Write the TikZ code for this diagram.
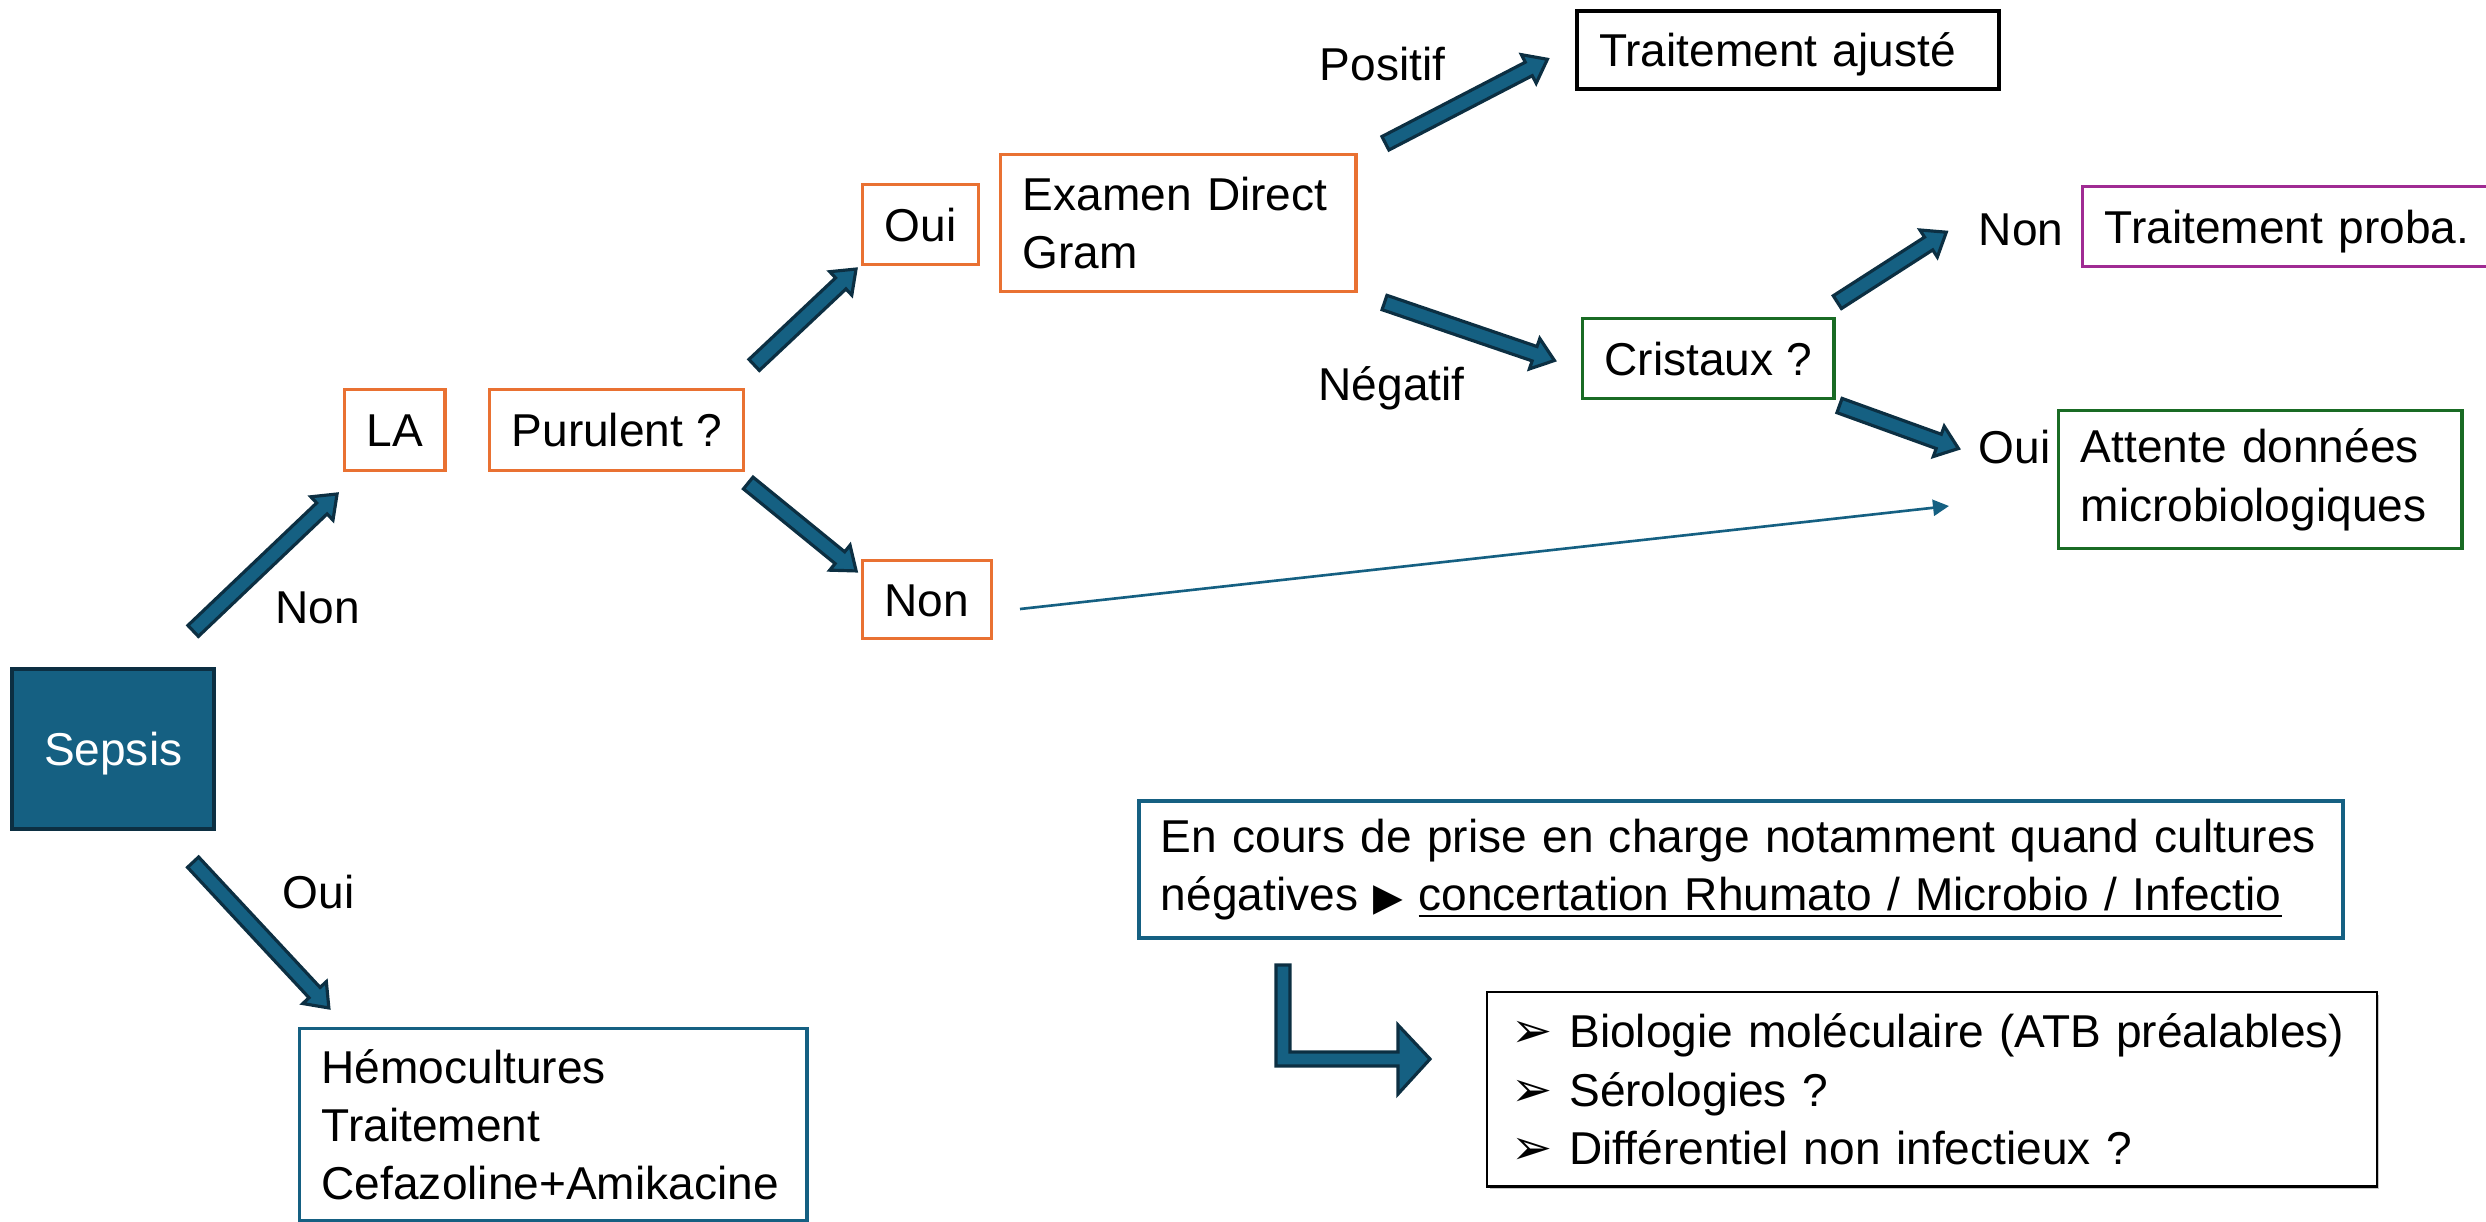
\documentclass[tikz,border=0pt]{standalone}
\usepackage{fontspec}
\setmainfont{Liberation Sans}
\newfontfamily\symfont{DejaVu Sans}
\usetikzlibrary{calc,shapes.arrows,arrows.meta,shadows}
\definecolor{sepblue}{HTML}{156082}
\definecolor{arrowline}{HTML}{0C2F42}
\definecolor{orangeLA}{HTML}{E97132}
\definecolor{greenLA}{HTML}{196B24}
\definecolor{purpleLA}{HTML}{A02B93}
\tikzset{
    basebox/.style={rectangle, draw, line width=0.95pt, inner xsep=0.22cm, inner ysep=0pt, anchor=north west},
    linebox/.style={basebox, text height=0.33cm, text depth=0pt, align=center},
    textbox/.style={basebox, align=left},
    sepsisbox/.style={basebox, draw=arrowline, fill=sepblue, text=white, line width=1.2pt, text height=0.33cm, text depth=0pt, minimum width=2.02cm, minimum height=1.6cm},
    bigarrow/.style={single arrow, draw=arrowline, fill=sepblue, line width=0.9pt, inner sep=0pt, inner ysep=0.06cm, minimum width=0pt, single arrow head extend=0.085cm, single arrow tip angle=75, anchor=tail},
    thinarrow/.style={draw=sepblue, line width=0.75pt, -{Triangle[length=0.16cm, width=0.16cm]}},
    lbl/.style={inner sep=0pt, anchor=base west}
}
\newcommand{\flowarrow}[2]{%
  \path let \p1 = ($(#2)-(#1)$),
            \n1 = {veclen(\x1,\y1)},
            \n2 = {atan2(\y1,\x1)} in
    node [bigarrow, minimum height=\n1, rotate=\n2] at (#1) {};}
\newcommand{\bulletsym}{\makebox[0.58cm][l]{\symfont\fontsize{14}{14}\selectfont ➢}}

\begin{document}
\begin{tikzpicture}
  [
    x                       = 0.01cm,
    y                       = -0.01cm,
    every node/.style       = {font=\fontsize{13.1}{16.6}\selectfont},
  ]
  \useasboundingbox (0,0) rectangle (2486,1221);
  \clip (0,0) rectangle (2486,1221);

  \node [sepsisbox] (sepsis) at (10,667) {Sepsis};
  \node [linebox, draw=orangeLA, minimum width=0.96cm, minimum height=0.81cm] (la) at (343,388) {LA};
  \node [linebox, draw=orangeLA, minimum width=2.50cm, minimum height=0.81cm] (purulent) at (488,388) {Purulent ?};
  \node [linebox, draw=orangeLA, minimum width=1.14cm, minimum height=0.80cm] (ouibox) at (861,183) {Oui};
  \node [linebox, draw=orangeLA, minimum width=1.28cm, minimum height=0.78cm] (nonbox) at (861,559) {Non};
  \node [textbox, draw=orangeLA, text width=3.11cm, minimum height=1.37cm] (examen) at (999,153) {Examen Direct\\Gram};
  \node [textbox, draw=black, line width=1.15pt, text height=0.33cm, text depth=0pt, text width=3.78cm, minimum height=0.78cm] (ajuste) at (1575,9) {Traitement ajusté};
  \node [linebox, draw=greenLA, minimum width=2.50cm, minimum height=0.80cm] (cristaux) at (1581,317) {Cristaux ?};
  \node [textbox, draw=purpleLA, text height=0.33cm, text depth=0pt, text width=4.06cm, minimum height=0.80cm] (proba) at (2081,185) {Traitement proba.};
  \node [textbox, draw=greenLA, text width=3.59cm, minimum height=1.38cm] (attente) at (2057,409) {Attente données\\microbiologiques};
  \node [textbox, draw=sepblue, text width=4.63cm, minimum height=1.92cm] (hemo) at (298,1027) {Hémocultures\\Traitement\\Cefazoline+Amikacine};
  \node [textbox, draw=sepblue, line width=1.1pt, text width=11.59cm, minimum height=1.37cm] (encours) at (1137,799)
    {En cours de prise en charge notamment quand cultures\\négatives {\symfont\fontsize{11}{11}\selectfont ▶} \underline{concertation Rhumato / Microbio / Infectio}};
  \node [textbox, draw=black, line width=0.7pt, fill=white, inner xsep=0.24cm, text width=8.41cm, minimum height=1.94cm,
         drop shadow={shadow xshift=0.025cm, shadow yshift=-0.025cm, opacity=0.45}] (bullets) at (1486,991)
    {\bulletsym Biologie moléculaire (ATB préalables)\\\bulletsym Sérologies ?\\\bulletsym Différentiel non infectieux ?};

  \node [lbl] (nonA) at (275,623) {Non};
  \node [lbl] (ouiA) at (282,908) {Oui};
  \node [lbl] (positif) at (1319,80) {Positif};
  \node [lbl] (negatif) at (1318,400) {Négatif};
  \node [lbl] (nonB) at (1978,245) {Non};
  \node [lbl] (ouiB) at (1978,463) {Oui};

  \coordinate (s1) at (192,632);  \coordinate (s1t) at (336,495);
  \coordinate (s2) at (192,861);  \coordinate (s2t) at (328,1007);
  \coordinate (p1) at (753,366);  \coordinate (p1t) at (855,270);
  \coordinate (p2) at (747,482);  \coordinate (p2t) at (855,570);
  \coordinate (e1) at (1384,144); \coordinate (e1t) at (1546,60);
  \coordinate (e2) at (1383,302); \coordinate (e2t) at (1553,360);
  \coordinate (c1) at (1836,303); \coordinate (c1t) at (1945,233);
  \coordinate (c2) at (1838,405); \coordinate (c2t) at (1957,448);
  \coordinate (n1) at (1020,609); \coordinate (n1t) at (1949,506);

  \flowarrow{s1}{s1t}
  \flowarrow{s2}{s2t}
  \flowarrow{p1}{p1t}
  \flowarrow{p2}{p2t}
  \flowarrow{e1}{e1t}
  \flowarrow{e2}{e2t}
  \flowarrow{c1}{c1t}
  \flowarrow{c2}{c2t}
  \draw [thinarrow] (n1) -- (n1t);

  \draw [draw=arrowline, fill=sepblue, line width=0.9pt, line join=miter]
    (1276,965) -- (1290,965) -- (1290,1052) -- (1398,1052) -- (1398,1025) -- (1430,1059)
    -- (1398,1094) -- (1398,1066) -- (1276,1066) -- cycle;
\end{tikzpicture}
\end{document}
